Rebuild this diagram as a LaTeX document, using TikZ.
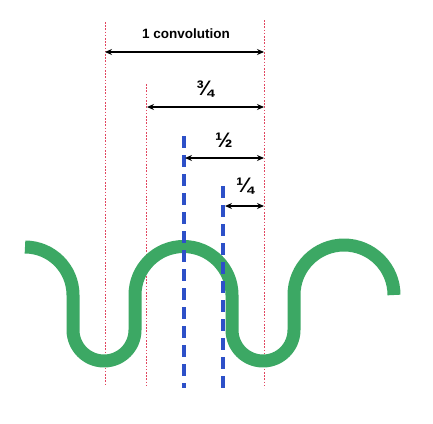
\documentclass[tikz,border=0pt]{standalone}
\usepackage{fontspec}
\setmainfont{Liberation Sans}
\usetikzlibrary{arrows.meta}
\definecolor{wavegreen}{RGB}{60,168,100}
\definecolor{refred}{RGB}{225,70,95}
\definecolor{refblue}{RGB}{45,80,200}
\tikzset{
  refline/.style={refred, line width=0.9pt, dash pattern=on 1.6pt off 1.6pt},
  halfline/.style={refblue, line width=3.8pt, dash pattern=on 12pt off 7pt},
  dimarrow/.style={black, line width=1.3pt, {Stealth[length=7pt,width=6pt]}-{Stealth[length=7pt,width=6pt]}},
  dimlabel/.style={font=\bfseries\fontsize{13.5}{15}\selectfont, inner sep=1pt},
  fraclabel/.style={font=\bfseries\fontsize{21}{23}\selectfont, inner sep=1pt},
  wave/.style={wavegreen, line width=13pt, line cap=butt, line join=round}
}
\begin{document}
\begin{tikzpicture}[x=1pt,y=-1pt]
\useasboundingbox (0,0) rectangle (433,423);
% reference lines (behind the wave)
\coordinate (r1t) at (105,22);  \coordinate (r1b) at (105,386);
\coordinate (r2t) at (146,84);  \coordinate (r2b) at (146,387);
\coordinate (r3t) at (264,20);  \coordinate (r3b) at (264,388);
\draw[refline] (r1t) -- (r1b);
\draw[refline] (r2t) -- (r2b);
\draw[refline] (r3t) -- (r3b);
% wave
\draw[wave] (25,247) arc[start angle=-90,end angle=0,radius=48]
  -- (73,330) arc[start angle=180,end angle=0,radius=31]
  -- (135,295) arc[start angle=180,end angle=360,radius=48.5]
  -- (232,330) arc[start angle=180,end angle=0,radius=31]
  -- (294,295) arc[start angle=180,end angle=360,radius=50];
% blue dashed lines (over the wave)
\coordinate (b1t) at (184,136); \coordinate (b1b) at (184,388);
\coordinate (b2t) at (223,186); \coordinate (b2b) at (223,388);
\draw[halfline] (b1t) -- (b1b);
\draw[halfline] (b2t) -- (b2b);
% dimension arrows
\coordinate (a1l) at (105,52);  \coordinate (a1r) at (264,52);
\coordinate (a2l) at (147,107); \coordinate (a2r) at (264,107);
\coordinate (a3l) at (185,158); \coordinate (a3r) at (264,158);
\coordinate (a4l) at (225,206); \coordinate (a4r) at (264,206);
\draw[dimarrow] (a1l) -- (a1r);
\draw[dimarrow] (a2l) -- (a2r);
\draw[dimarrow] (a3l) -- (a3r);
\draw[dimarrow] (a4l) -- (a4r);
\node[dimlabel] (t1) at (186,34) {1 convolution};
\node[fraclabel] (t2) at (205,89) {¾};
\node[fraclabel] (t3) at (224,140) {½};
\node[fraclabel] (t4) at (245,186) {¼};
\end{tikzpicture}
\end{document}
